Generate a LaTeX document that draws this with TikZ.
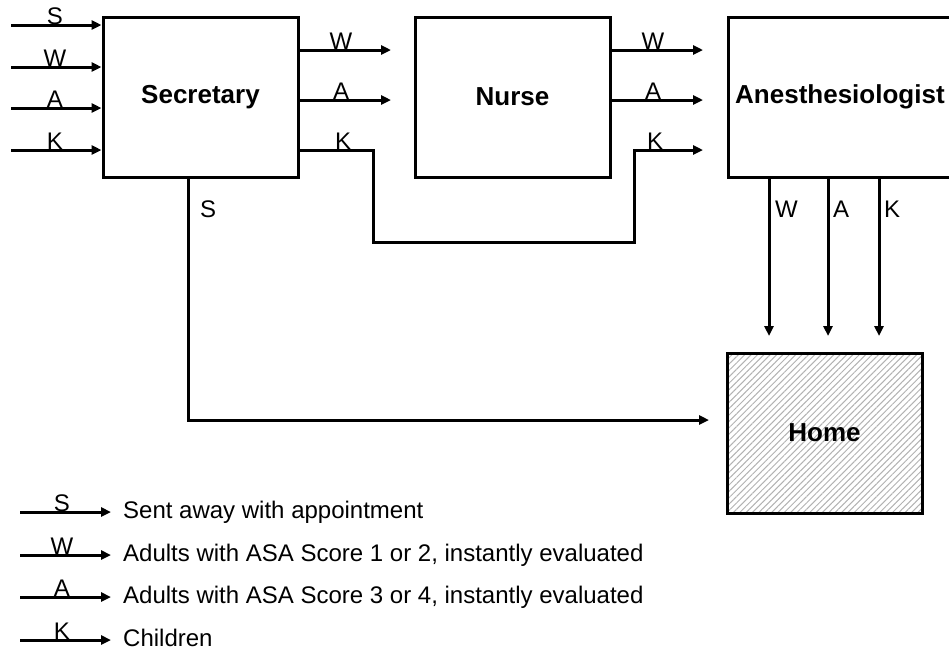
\documentclass[tikz,border=0pt]{standalone}
\usepackage{fontspec}
\setmainfont{Liberation Sans}
\usetikzlibrary{arrows.meta,patterns.meta}
\begin{document}
\begin{tikzpicture}[x=1pt,y=-1pt,
  box/.style={draw,line width=3pt,inner sep=0pt,minimum width=195pt,minimum height=160pt},
  flow/.style={line width=3pt,-{Triangle[length=10pt,width=9pt]}},
  lbl/.style={font=\fontsize{24}{28}\selectfont,inner sep=0pt,anchor=base},
  lbll/.style={lbl,anchor=base west},
  ttl/.style={font=\fontsize{26}{30}\selectfont\bfseries,inner sep=0pt}]
\useasboundingbox (0,0) rectangle (949,654);
\clip (0,0) rectangle (949,654);
% boxes
\node[box] (sec) at (200.5,97) {};
\node[ttl] (sect) at (sec.center) {Secretary};
\node[box] (nur) at (512.5,97) {};
\node[ttl] (nurt) at (nur.center) {Nurse};
\node[box,minimum width=260pt,anchor=west] (ane) at (727,97) {};
\node[ttl,anchor=west] (anet) at (735,97) {Anesthesiologist};
\node[box,pattern={Lines[angle=45,distance=4.5pt,line width=1pt]},pattern color=gray!60] (home) at (824.5,433) {};
\node[ttl] (homet) at (home.center) {Home};
% inputs to secretary
\coordinate (iS) at (11,25);
\coordinate (iW) at (11,67);
\coordinate (iA) at (11,108);
\coordinate (iK) at (11,150);
\draw[flow] (iS) -- (sec.west |- iS);
\draw[flow] (iW) -- (sec.west |- iW);
\draw[flow] (iA) -- (sec.west |- iA);
\draw[flow] (iK) -- (sec.west |- iK);
\node[lbl] (liS) at (55,24) {S};
\node[lbl] (liW) at (55,66) {W};
\node[lbl] (liA) at (55,107.5) {A};
\node[lbl] (liK) at (55,149.5) {K};
% secretary to nurse
\coordinate (oW) at (391,50);
\coordinate (oA) at (391,100);
\draw[flow] (sec.east |- oW) -- (oW);
\draw[flow] (sec.east |- oA) -- (oA);
\node[lbl] (loW) at (341,49.5) {W};
\node[lbl] (loA) at (341,99.5) {A};
% K bypass
\coordinate (kS) at (373,150);
\coordinate (kB1) at (373,242);
\coordinate (kB2) at (634,242);
\coordinate (kU) at (634,150);
\coordinate (kE) at (703,150);
\draw[flow] (sec.east |- kS) -- (kS) -- (kB1) -- (kB2) -- (kU) -- (kE);
\node[lbl] (loK) at (343,149.5) {K};
\node[lbl] (lnK) at (655,149.5) {K};
% nurse to anesthesiologist
\coordinate (nW) at (703,50);
\coordinate (nA) at (703,100);
\draw[flow] (nur.east |- nW) -- (nW);
\draw[flow] (nur.east |- nA) -- (nA);
\node[lbl] (lnW) at (653,49.5) {W};
\node[lbl] (lnA) at (653,99.5) {A};
% secretary S to home
\coordinate (sS) at (188,420);
\coordinate (sE) at (709,420);
\draw[flow] (sec.south -| sS) -- (sS) -- (sE);
\node[lbll] (lsS) at (200,217) {S};
% anesthesiologist to home
\coordinate (hW) at (769,336);
\coordinate (hA) at (828,336);
\coordinate (hK) at (879,336);
\draw[flow] (hW |- ane.south) -- (hW);
\draw[flow] (hA |- ane.south) -- (hA);
\draw[flow] (hK |- ane.south) -- (hK);
\node[lbll] (lhW) at (775,217) {W};
\node[lbll] (lhA) at (833,217) {A};
\node[lbll] (lhK) at (884,217) {K};
% legend
\coordinate (gS0) at (20,512); \coordinate (gS1) at (111,512);
\coordinate (gW0) at (20,555); \coordinate (gW1) at (111,555);
\coordinate (gA0) at (20,597); \coordinate (gA1) at (111,597);
\coordinate (gK0) at (20,640); \coordinate (gK1) at (111,640);
\draw[flow] (gS0) -- (gS1);
\draw[flow] (gW0) -- (gW1);
\draw[flow] (gA0) -- (gA1);
\draw[flow] (gK0) -- (gK1);
\node[lbl] (gSl) at (62,511) {S};
\node[lbl] (gWl) at (62,554) {W};
\node[lbl] (gAl) at (62,596) {A};
\node[lbl] (gKl) at (62,639) {K};
\node[lbll] (gSt) at (123,518) {Sent away with appointment};
\node[lbll] (gWt) at (123,561) {Adults with ASA Score 1 or 2, instantly evaluated};
\node[lbll] (gAt) at (123,603) {Adults with ASA Score 3 or 4, instantly evaluated};
\node[lbll] (gKt) at (123,646) {Children};
\end{tikzpicture}
\end{document}
